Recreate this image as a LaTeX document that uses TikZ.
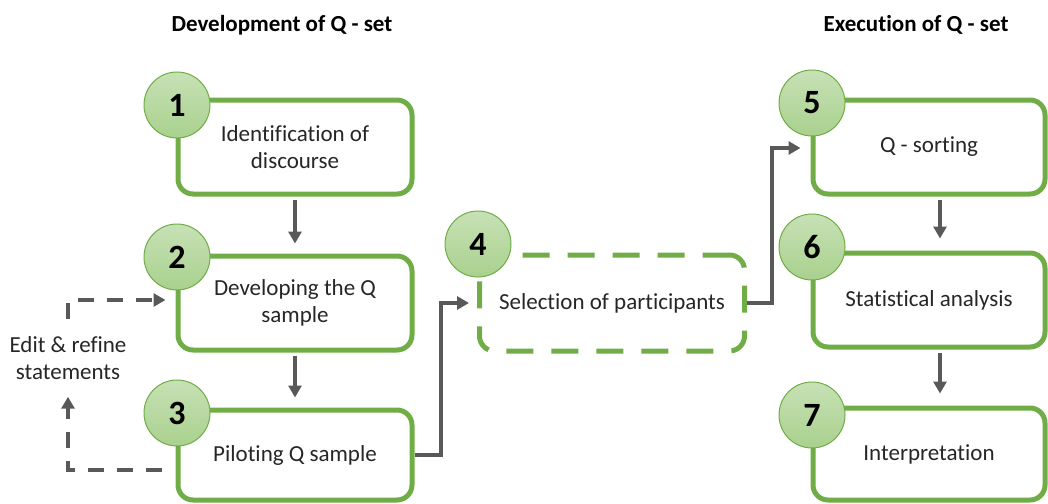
\documentclass[tikz,border=0pt]{standalone}
\usepackage{fontspec}
\setmainfont{Carlito}[Ligatures=NoCommon]
\usepackage{xcolor}
\usepackage{tikz}
\usetikzlibrary{arrows.meta,calc,positioning}
\definecolor{qgreen}{HTML}{70AD47}
\definecolor{qlight}{HTML}{A9D18E}
\definecolor{qgray}{HTML}{595959}

\begin{document}
\begin{tikzpicture}[x=1pt, y=-1pt,
		stepbox/.style={draw=qgreen, line width=5pt, rounded corners=15pt, minimum width=234pt, minimum height=94pt, align=center, text=black!85, font=\fontsize{23}{27}\selectfont},
		numdot/.style={circle, draw=qgreen, line width=1pt, top color=qlight!65, bottom color=qlight, minimum size=66pt, inner sep=0pt, font=\fontsize{34}{34}\selectfont\bfseries},
		link/.style={draw=qgray, line width=4pt, -{Triangle[length=12pt,width=13pt]}},
		loop/.style={link, dash pattern=on 16pt off 13pt},
		heading/.style={font=\fontsize{23}{27}\selectfont\bfseries}]
		
		\useasboundingbox (0,0) rectangle (1048,503);
		
		\node[heading] (h1) at (282,25) {Development of Q - set};
		\node[heading] (h2) at (916,25) {Execution of Q - set};
		
		% development column
		\node[stepbox] (b1) at (295,147) {Identification of\\discourse};
		\node[stepbox] (b2) at (295,303) {Developing the Q\\sample};
		\node[stepbox, minimum height=90pt] (b3) at (295,455) {Piloting Q sample};
		
		% selection
		\node[stepbox, minimum width=265pt, minimum height=96pt, dash pattern=on 27pt off 18pt] (b4) at (612,303) {Selection of participants};
		
		% execution column
		\node[stepbox, minimum width=232pt] (b5) at (929,147) {Q - sorting};
		\node[stepbox, minimum width=232pt] (b6) at (929,300) {Statistical analysis};
		\node[stepbox, minimum width=232pt, minimum height=92pt] (b7) at (929,454) {Interpretation};
		
		\node[numdot] (n1) at (177,105) {1};
		\node[numdot] (n2) at (177,257) {2};
		\node[numdot] (n3) at (177,413) {3};
		\node[numdot] (n4) at (478,244) {4};
		\node[numdot] (n5) at (812,103) {5};
		\node[numdot] (n6) at (812,247) {6};
		\node[numdot] (n7) at (812,415) {7};
		
		\node[align=center, inner sep=0pt, minimum height=77pt, text=black!85, font=\fontsize{23}{27}\selectfont] (edit) at (68,358) {Edit \& refine\\statements};
		
		\draw[link, shorten <=3pt, shorten >=10pt] (b1.south) -- (b2.north);
		\draw[link, shorten <=3pt, shorten >=10pt] (b2.south) -- (b3.north);
		\draw[link, shorten <=3pt, shorten >=12pt] ([xshift=11pt]b5.south) -- ([xshift=11pt]b6.north);
		\draw[link, shorten <=3pt, shorten >=12pt] ([xshift=11pt]b6.south) -- ([xshift=11pt]b7.north);
		
		\draw[link] (b3.east) -- ++(26,0) |- ([xshift=-8pt]b4.west);
		\draw[link] (b4.east) -- ++(25,0) |- ([xshift=-10pt,yshift=-1pt]b5.west);
		
		\coordinate (fb) at ([xshift=-14pt,yshift=-15pt]b3.west);
		\draw[loop] (fb) -| (edit.south);
		\draw[loop] (edit.north) |- ([xshift=-10pt,yshift=3pt]b2.west);
\end{tikzpicture}
\end{document}
